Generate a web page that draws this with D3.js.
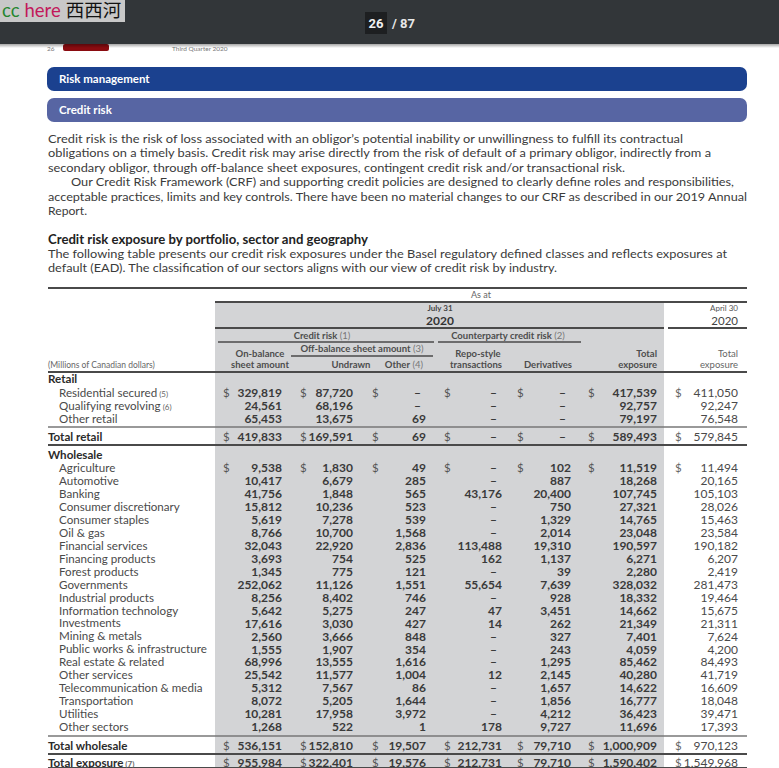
<!DOCTYPE html>
<html>
<head>
<meta charset="utf-8">
<script src="https://cdn.jsdelivr.net/npm/d3@7"></script>
<style>
  html, body { margin: 0; padding: 0; background: #fff; overflow: hidden; }
  svg { display: block; font-family: Lato, "Open Sans", sans-serif; }
</style>
</head>
<body>
<svg id="page" width="779" height="768"></svg>
<script>
// table rows
var retailLabels = ['Residential secured', 'Qualifying revolving', 'Other retail'];
var retailNotes = ['(5)', '(6)', ''];
var wholesaleLabels = ['Agriculture', 'Automotive', 'Banking', 'Consumer discretionary', 'Consumer staples',
    'Oil & gas', 'Financial services', 'Financing products', 'Forest products', 'Governments',
    'Industrial products', 'Information technology', 'Investments', 'Mining & metals',
    'Public works & infrastructure', 'Real estate & related', 'Other services',
    'Telecommunication & media', 'Transportation', 'Utilities', 'Other sectors'];

// columns (null = dash), retail rows first then wholesale rows
var columns = ['onBalance', 'undrawn', 'other', 'repo', 'derivatives', 'totalJul', 'totalApr'];
var onBalance = [329819, 24561, 65453,
    9538, 10417, 41756, 15812, 5619, 8766, 32043, 3693, 1345, 252062, 8256, 5642, 17616, 2560, 1555, 68996, 25542, 5312, 8072, 10281, 1268];
var undrawn = [87720, 68196, 13675,
    1830, 6679, 1848, 10236, 7278, 10700, 22920, 754, 775, 11126, 8402, 5275, 3030, 3666, 1907, 13555, 11577, 7567, 5205, 17958, 522];
var otherOffBalance = [null, null, 69,
    49, 285, 565, 523, 539, 1568, 2836, 525, 121, 1551, 746, 247, 427, 848, 354, 1616, 1004, 86, 1644, 3972, 1];
var repoStyle = [null, null, null,
    null, null, 43176, null, null, null, 113488, 162, null, 55654, null, 47, 14, null, null, null, 12, null, null, null, 178];
var derivatives = [null, null, null,
    102, 887, 20400, 750, 1329, 2014, 19310, 1137, 39, 7639, 928, 3451, 262, 327, 243, 1295, 2145, 1657, 1856, 4212, 9727];
var totalJul31 = [417539, 92757, 79197,
    11519, 18268, 107745, 27321, 14765, 23048, 190597, 6271, 2280, 328032, 18332, 14662, 21349, 7401, 4059, 85462, 40280, 14622, 16777, 36423, 11696];
var totalApr30 = [411050, 92247, 76548,
    11494, 20165, 105103, 28026, 15463, 23584, 190182, 6207, 2419, 281473, 19464, 15675, 21311, 7624, 4200, 84493, 41719, 16609, 18048, 39471, 17393];

// total rows, in column order
var totalRetail = [419833, 169591, 69, null, null, 589493, 579845];
var totalWholesale = [536151, 152810, 19507, 212731, 79710, 1000909, 970123];
var totalExposure = [955984, 322401, 19576, 212731, 79710, 1590402, 1549968];

var introLines = [
    "Credit risk is the risk of loss associated with an obligor\u2019s potential inability or unwillingness to fulfill its contractual",
    "obligations on a timely basis. Credit risk may arise directly from the risk of default of a primary obligor, indirectly from a",
    "secondary obligor, through off-balance sheet exposures, contingent credit risk and/or transactional risk.",
    "Our Credit Risk Framework (CRF) and supporting credit policies are designed to clearly define roles and responsibilities,",
    "acceptable practices, limits and key controls. There have been no material changes to our CRF as described in our 2019 Annual",
    "Report."
];
var tableIntro = [
    "The following table presents our credit risk exposures under the Basel regulatory defined classes and reflects exposures at",
    "default (EAD). The classification of our sectors aligns with our view of credit risk by industry."
];

var svg = d3.select('#page');
var fmt = d3.format(',');
var series = [onBalance, undrawn, otherOffBalance, repoStyle, derivatives, totalJul31, totalApr30];

// ---- page text ----
var intro = svg.append('g').attr('fill', '#3b3b3b').style('font-size', '12.3px');
var introX = [48, 48, 48, 71, 48, 48];
var introW = [635, 663, 577, 663, 699, 39];
intro.selectAll('text').data(introLines).enter().append('text')
    .attr('x', function (d, i) { return introX[i]; })
    .attr('y', function (d, i) { return 143 + i * 14.4; })
    .attr('textLength', function (d, i) { return introW[i]; })
    .attr('lengthAdjust', 'spacingAndGlyphs')
    .text(String);

svg.append('text').attr('x', 48).attr('y', 244)
    .attr('fill', '#222').style('font-size', '12.3px').style('font-weight', 700)
    .attr('textLength', 320).attr('lengthAdjust', 'spacingAndGlyphs')
    .text('Credit risk exposure by portfolio, sector and geography');
var tiW = [679, 509];
svg.append('g').attr('fill', '#3b3b3b').style('font-size', '12.3px')
    .selectAll('text').data(tableIntro).enter().append('text')
    .attr('x', 48).attr('y', function (d, i) { return 258 + i * 14.4; })
    .attr('textLength', function (d, i) { return tiW[i]; })
    .attr('lengthAdjust', 'spacingAndGlyphs')
    .text(String);

// section bars
[['Risk management', 67, '#1b418f'], ['Credit risk', 98, '#5765a3']].forEach(function (b) {
    svg.append('rect').attr('x', 47).attr('y', b[1]).attr('width', 700).attr('height', 24)
        .attr('rx', 7).attr('fill', b[2]);
    svg.append('text').attr('x', 59).attr('y', b[1] + 16).attr('fill', '#fff')
        .style('font-size', '11.5px').style('font-weight', 700).text(b[0]);
});

// ---- table ----
var colRight = d3.scaleOrdinal().domain(columns).range([282, 353, 426, 502, 571, 657, 738]);
var colDollar = d3.scaleOrdinal().domain(columns).range([223, 300, 372, 444, 517, 588, 675]);
var retailY = d3.scaleLinear().domain([0, 2]).range([393, 419]);
var wholesaleY = d3.scaleLinear().domain([0, 20]).range([468, 727]);

var table = svg.append('g');
table.append('rect').attr('x', 215).attr('y', 302).attr('width', 449).attr('height', 470).attr('fill', '#d3d4d6');

function hline(x1, x2, y, w, c) {
    table.append('line').attr('x1', x1).attr('x2', x2).attr('y1', y).attr('y2', y)
        .attr('stroke', c || '#4a4a4a').attr('stroke-width', w || 2);
}
hline(48, 747, 288);
hline(215, 747, 302);
hline(215, 664, 328);
hline(668, 747, 328);
hline(218, 434, 342, 1.3);
hline(438, 581, 342, 1.3);
hline(291, 433, 356, 1.3);
hline(48, 747, 372);
hline(48, 747, 427, 1.5, '#777');
hline(48, 747, 445);
hline(48, 747, 736, 1.5, '#777');
hline(48, 747, 754);
hline(48, 747, 768);

function headText(x, y, anchor, main, note, weight, size, color) {
    var t = table.append('text').attr('x', x).attr('y', y).attr('text-anchor', anchor)
        .attr('fill', color || '#4d4d4d').style('font-size', (size || 9.5) + 'px')
        .style('font-weight', weight || 700);
    t.append('tspan').text(main);
    if (note) t.append('tspan').style('font-weight', 400).attr('fill', '#777').text(' ' + note);
}
headText(481, 298, 'middle', 'As at', null, 400, 9, '#666');
headText(440, 311, 'middle', 'July 31', null, 700, 8, '#444');
headText(440, 325, 'middle', '2020', null, 700, 12, '#333');
headText(738, 311, 'end', 'April 30', null, 400, 8, '#555');
headText(738, 325, 'end', '2020', null, 400, 11.5, '#444');
headText(322, 339, 'middle', 'Credit risk', '(1)');
headText(508, 339, 'middle', 'Counterparty credit risk', '(2)');
headText(362, 352, 'middle', 'Off-balance sheet amount', '(3)');
headText(260, 357, 'middle', 'On-balance');
headText(260, 368, 'middle', 'sheet amount');
headText(351, 368, 'middle', 'Undrawn');
headText(423, 368, 'end', 'Other', '(4)');
headText(478, 357, 'middle', 'Repo-style');
headText(476, 368, 'middle', 'transactions');
headText(548, 368, 'middle', 'Derivatives');
headText(657, 357, 'end', 'Total');
headText(657, 368, 'end', 'exposure');
headText(738, 357, 'end', 'Total', null, 400, 9.5, '#666');
headText(738, 368, 'end', 'exposure', null, 400, 9.5, '#666');
headText(48, 368, 'start', '(Millions of Canadian dollars)', null, 400, 8.5, '#666');

// row labels
function label(x, y, txt, note, bold) {
    var t = table.append('text').attr('x', x).attr('y', y).attr('dy', '0.35em')
        .attr('fill', bold ? '#2b2b2b' : '#4a4a4a').style('font-size', '11.6px')
        .style('font-weight', bold ? 700 : 400);
    t.append('tspan').text(txt);
    if (note) t.append('tspan').style('font-size', '8px').attr('fill', '#666').text(' ' + note);
}
label(48, 379, 'Retail', null, true);
retailLabels.forEach(function (d, i) { label(59, retailY(i), d, retailNotes[i]); });
label(48, 437, 'Total retail', null, true);
label(48, 455, 'Wholesale', null, true);
wholesaleLabels.forEach(function (d, i) { label(59, wholesaleY(i), d); });
label(48, 746, 'Total wholesale', null, true);
label(48, 763, 'Total exposure', '(7)', true);

// cells
function cellRow(values, y, dollar) {
    var g = table.append('g');
    var cells = columns.map(function (c, j) { return {col: c, v: values[j]}; });
    g.selectAll('text.v').data(cells).enter().append('text')
        .attr('class', 'v')
        .attr('x', function (d) { return d.v == null ? colRight(d.col) - 5 : colRight(d.col); })
        .attr('y', y).attr('dy', '0.35em').attr('text-anchor', 'end')
        .attr('fill', function (d) { return d.col === 'totalApr' ? '#4a4a4a' : '#3a3a3a'; })
        .style('font-size', '12px')
        .style('font-weight', function (d) { return d.col === 'totalApr' ? 400 : 700; })
        .text(function (d) { return d.v == null ? '\u2013' : fmt(d.v); });
    if (dollar) {
        g.selectAll('text.d').data(cells).enter().append('text')
            .attr('class', 'd')
            .attr('x', function (d) { return colDollar(d.col); })
            .attr('y', y).attr('dy', '0.35em')
            .attr('fill', function (d) { return d.col === 'totalApr' ? '#666' : '#555'; })
            .style('font-size', '11.5px')
            .text('$');
    }
}
retailLabels.forEach(function (d, i) {
    cellRow(series.map(function (s) { return s[i]; }), retailY(i), i === 0);
});
cellRow(totalRetail, 437, true);
wholesaleLabels.forEach(function (d, i) {
    var k = i + retailLabels.length;
    cellRow(series.map(function (s) { return s[k]; }), wholesaleY(i), i === 0);
});
cellRow(totalWholesale, 746, true);
cellRow(totalExposure, 763, true);

// ---- page header strip (behind the viewer bar) ----
svg.append('text').attr('x', 47).attr('y', 51).attr('fill', '#777').style('font-size', '6.5px').text('26');
svg.append('rect').attr('x', 63).attr('y', 44).attr('width', 46).attr('height', 7).attr('rx', 2).attr('fill', '#8a0b10');
svg.append('text').attr('x', 172).attr('y', 51).attr('fill', '#777').style('font-size', '6.5px').text('Third Quarter 2020');

// ---- viewer toolbar ----
var defs = svg.append('defs');
var grad = defs.append('linearGradient').attr('id', 'shadow').attr('x1', 0).attr('x2', 0).attr('y1', 0).attr('y2', 1);
grad.append('stop').attr('offset', 0).attr('stop-color', '#000').attr('stop-opacity', 0.35);
grad.append('stop').attr('offset', 1).attr('stop-color', '#000').attr('stop-opacity', 0);
svg.append('rect').attr('x', 0).attr('y', 44).attr('width', 779).attr('height', 4).attr('fill', 'url(#shadow)');
svg.append('rect').attr('x', 0).attr('y', 0).attr('width', 779).attr('height', 44).attr('fill', '#323639');
svg.append('rect').attr('x', 365).attr('y', 12).attr('width', 22).attr('height', 22).attr('fill', '#1d1f21');
svg.append('text').attr('x', 376).attr('y', 28).attr('text-anchor', 'middle').attr('fill', '#f1f1f1')
    .style('font-family', 'Roboto, sans-serif').style('font-size', '13px').style('font-weight', 700).text('26');
svg.append('text').attr('x', 392).attr('y', 28).attr('fill', '#e8e8e8')
    .style('font-family', 'Roboto, sans-serif').style('font-size', '13px').style('font-weight', 700).text('/ 87');

// watermark overlay
svg.append('rect').attr('x', 0).attr('y', 0).attr('width', 125).attr('height', 22).attr('fill', '#c8c8c8');
var wm = svg.append('text').attr('x', 2).attr('y', 17).style('font-size', '18.5px');
wm.append('tspan').attr('fill', '#25862f').text('cc');
wm.append('tspan').attr('fill', '#c2185b').attr('dx', 5).text('here');
wm.append('tspan').attr('fill', '#111').attr('dx', 5)
    .style('font-family', '"Noto Sans CJK SC", sans-serif').text('西西河');
</script>
</body>
</html>
